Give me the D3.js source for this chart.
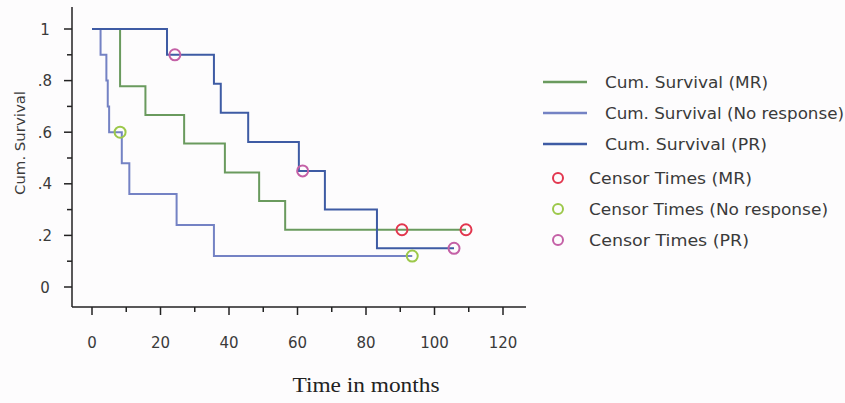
<!DOCTYPE html>
<html>
<head>
<meta charset="utf-8">
<script src="https://cdn.jsdelivr.net/npm/d3@7"></script>
<style>
  body { margin: 0; background: #fdfcfd; }
  svg text { font-family: "DejaVu Sans", Verdana, sans-serif; fill: #3a3a3a; }
</style>
</head>
<body>
<svg id="chart" width="845" height="403"></svg>
<script>
// survival steps: [time, survival after the drop]
var mrSteps = [[0, 1], [8.2, 0.778], [15.6, 0.667], [26.9, 0.556], [38.8, 0.444], [48.8, 0.333], [56.4, 0.222]]
var mrEnd = 109.2
var noRespSteps = [[0, 1], [2.5, 0.9], [4.2, 0.8], [4.6, 0.7], [5.0, 0.6], [8.7, 0.48], [10.9, 0.36], [24.7, 0.24], [35.6, 0.12]]
var noRespEnd = 93.5
var prSteps = [[0, 1], [21.9, 0.9], [35.6, 0.7875], [37.6, 0.675], [45.6, 0.5625], [60.4, 0.45], [68, 0.3], [83.2, 0.15]]
var prEnd = 105.7

var mrCensor = [[90.5, 0.222], [109.2, 0.222]]
var noRespCensor = [[8.2, 0.6], [93.5, 0.12]]
var prCensor = [[24.2, 0.9], [61.5, 0.45], [105.7, 0.15]]

var xTicks = [0, 20, 40, 60, 80, 100, 120]
var yTicks = [0, 0.2, 0.4, 0.6, 0.8, 1]
var yTickLabels = ["0", ".2", ".4", ".6", ".8", "1"]

var series = [
  {name: "Cum. Survival (MR)", steps: mrSteps, end: mrEnd, color: "#6a9a5e", w: 163},
  {name: "Cum. Survival (No response)", steps: noRespSteps, end: noRespEnd, color: "#7482c4", w: 239},
  {name: "Cum. Survival (PR)", steps: prSteps, end: prEnd, color: "#3e5ba4", w: 162}
]
var censors = [
  {name: "Censor Times (MR)", pts: mrCensor, color: "#e2364e", w: 163},
  {name: "Censor Times (No response)", pts: noRespCensor, color: "#9cc84a", w: 239},
  {name: "Censor Times (PR)", pts: prCensor, color: "#c460a6", w: 160}
]

var svg = d3.select("#chart")
var x = d3.scaleLinear().domain([0, 120]).range([92, 503])
var y = d3.scaleLinear().domain([0, 1]).range([287, 29])

// axes
var axisX = 72, axisY = 307
svg.append("line").attr("x1", axisX).attr("x2", axisX).attr("y1", 7).attr("y2", axisY)
  .attr("stroke", "#222").attr("stroke-width", 1.5)
svg.append("line").attr("x1", axisX).attr("x2", 526).attr("y1", axisY).attr("y2", axisY)
  .attr("stroke", "#222").attr("stroke-width", 1.5)

// y ticks (major + minor)
d3.range(0, 1.01, 0.1).forEach(function(v, i){
  var major = i % 2 === 0
  svg.append("line").attr("x1", axisX - (major ? 8 : 5)).attr("x2", axisX)
    .attr("y1", y(v)).attr("y2", y(v)).attr("stroke", "#222").attr("stroke-width", 1.5)
})
svg.selectAll(".ylab").data(yTicks).enter().append("text")
  .attr("x", 45).attr("y", function(d){ return y(d) + 5.5 })
  .attr("text-anchor", "middle").attr("font-size", 15)
  .text(function(d, i){ return yTickLabels[i] })

// x ticks (major + minor)
d3.range(0, 121, 10).forEach(function(v){
  var major = v % 20 === 0
  svg.append("line").attr("x1", x(v)).attr("x2", x(v))
    .attr("y1", axisY).attr("y2", axisY + (major ? 8 : 5)).attr("stroke", "#222").attr("stroke-width", 1.5)
})
svg.selectAll(".xlab").data(xTicks).enter().append("text")
  .attr("x", function(d){ return x(d) }).attr("y", 348)
  .attr("text-anchor", "middle").attr("font-size", 15)
  .text(function(d){ return d })

svg.append("text").attr("x", 366).attr("y", 392).attr("text-anchor", "middle")
  .attr("font-size", 22).attr("textLength", 147).attr("lengthAdjust", "spacingAndGlyphs")
  .style("font-family", "'Liberation Serif', 'Times New Roman', serif")
  .style("fill", "#222").text("Time in months")
svg.append("text").attr("transform", "translate(25,143) rotate(-90)")
  .attr("text-anchor", "middle").attr("font-size", 14)
  .attr("textLength", 104).attr("lengthAdjust", "spacingAndGlyphs").text("Cum. Survival")

// survival curves
var line = d3.line().x(function(d){ return x(d[0]) }).y(function(d){ return y(d[1]) }).curve(d3.curveStepAfter)
series.forEach(function(s){
  var pts = s.steps.concat([[s.end, s.steps[s.steps.length - 1][1]]])
  svg.append("path").attr("d", line(pts)).attr("fill", "none")
    .attr("stroke", s.color).attr("stroke-width", 2)
})

// censor marks
censors.forEach(function(c){
  svg.selectAll(null).data(c.pts).enter().append("circle")
    .attr("cx", function(d){ return x(d[0]) }).attr("cy", function(d){ return y(d[1]) })
    .attr("r", 5.5).attr("fill", "none").attr("stroke", c.color).attr("stroke-width", 2)
})

// legend
series.forEach(function(s, i){
  var ly = 82 + i * 31
  svg.append("line").attr("x1", 543).attr("x2", 587).attr("y1", ly).attr("y2", ly)
    .attr("stroke", s.color).attr("stroke-width", 2.5)
  svg.append("text").attr("x", 605).attr("y", ly + 5.5).attr("font-size", 16)
    .attr("textLength", s.w).attr("lengthAdjust", "spacingAndGlyphs").text(s.name)
})
censors.forEach(function(c, i){
  var ly = 178 + i * 31
  svg.append("circle").attr("cx", 558).attr("cy", ly).attr("r", 5)
    .attr("fill", "none").attr("stroke", c.color).attr("stroke-width", 2)
  svg.append("text").attr("x", 589).attr("y", ly + 5.5).attr("font-size", 16)
    .attr("textLength", c.w).attr("lengthAdjust", "spacingAndGlyphs").text(c.name)
})
</script>
</body>
</html>
